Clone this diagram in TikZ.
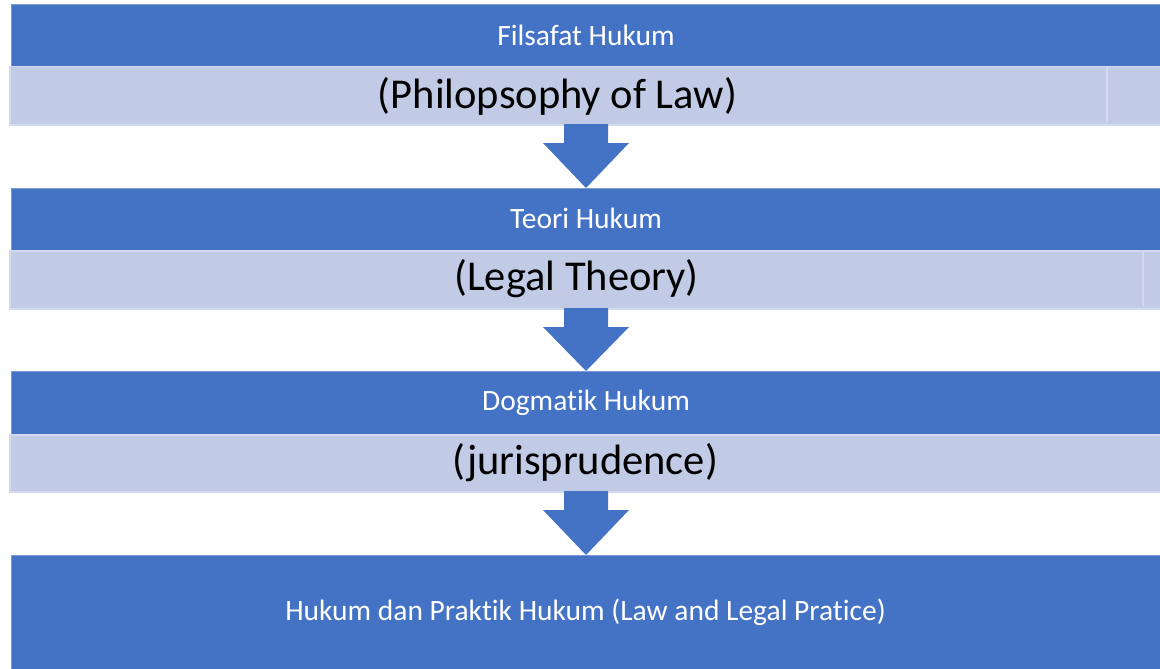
\documentclass[tikz,border=0pt]{standalone}
\usepackage{fontspec}
\setmainfont[Ligatures={NoCommon}]{Carlito}
\usetikzlibrary{calc}
\definecolor{darkblue}{HTML}{4472C4}
\definecolor{lightblue}{HTML}{C1CBE6}
\definecolor{lightedge}{HTML}{D3DAEE}
\definecolor{darkedge}{HTML}{7C9AD6}
\tikzset{
  darkbox/.style={rectangle, anchor=north west, inner sep=0pt, fill=darkblue, draw=darkedge, line width=0.6pt},
  lightbox/.style={rectangle, anchor=north west, inner sep=0pt, fill=lightblue, draw=lightedge, line width=1.5pt},
  darktext/.style={text=white, font=\fontsize{29.5}{34}\selectfont, inner sep=0pt},
  lighttext/.style={text=black, font=\fontsize{42.5}{50}\selectfont, inner sep=0pt},
  blockarrow/.style={fill=darkblue, draw=none},
  seam/.style={draw=lightedge, line width=1.2pt}
}
\newcommand\flowarrow[2]{%
  \path[blockarrow] ($(#1.south)+(-22,0)$) -- ($(#1.south)+(22,0)$) -- ($(#1.south)+(22,19)$)
    -- ($(#1.south)+(43,19)$) -- (#2.north) -- ($(#1.south)+(-43,19)$) -- ($(#1.south)+(-22,19)$) -- cycle;}
\begin{document}
\begin{tikzpicture}[x=1pt,y=-1pt]
\useasboundingbox (0,0) rectangle (1160,669);
% boxes
\node[darkbox, minimum width=1160pt, minimum height=62pt] (d1) at (11,4) {};
\node[lightbox, minimum width=1160pt, minimum height=58pt] (l1) at (9,66) {};
\node[darkbox, minimum width=1160pt, minimum height=62pt] (d2) at (11,188) {};
\node[lightbox, minimum width=1160pt, minimum height=58pt] (l2) at (9,250) {};
\node[darkbox, minimum width=1160pt, minimum height=63pt] (d3) at (11,371) {};
\node[lightbox, minimum width=1160pt, minimum height=57pt] (l3) at (9,434) {};
\node[darkbox, minimum width=1160pt, minimum height=120pt] (d4) at (11,555) {};
% coordinates for arrow tips
\coordinate (t1) at (586,188);
\coordinate (t2) at (586,371);
\coordinate (t3) at (586,555);
\coordinate (s1) at (586,124);
\coordinate (s2) at (586,308);
\coordinate (s3) at (586,491);
% seams
\coordinate (a1) at (1107,67); \coordinate (b1) at (1107,123);
\coordinate (a2) at (1143,251); \coordinate (b2) at (1143,307);
\draw[seam] (a1) -- (b1);
\draw[seam] (a2) -- (b2);
% arrows
\flowarrow{s1}{t1}
\flowarrow{s2}{t2}
\flowarrow{s3}{t3}
% texts
\node[darktext] (x1) at (586,35) {Filsafat Hukum};
\node[lighttext] (y1) at (557.5,96) {(Philopsophy of Law)};
\node[darktext] (x2) at (586,218) {Teori Hukum};
\node[lighttext] (y2) at (576.5,279) {(Legal Theory)};
\node[darktext] (x3) at (586,403) {Dogmatik Hukum};
\node[lighttext] (y3) at (585.5,463) {(jurisprudence)};
\node[darktext] (x4) at (585.5,612) {Hukum dan Praktik Hukum (Law and Legal Pratice)};
\end{tikzpicture}
\end{document}
